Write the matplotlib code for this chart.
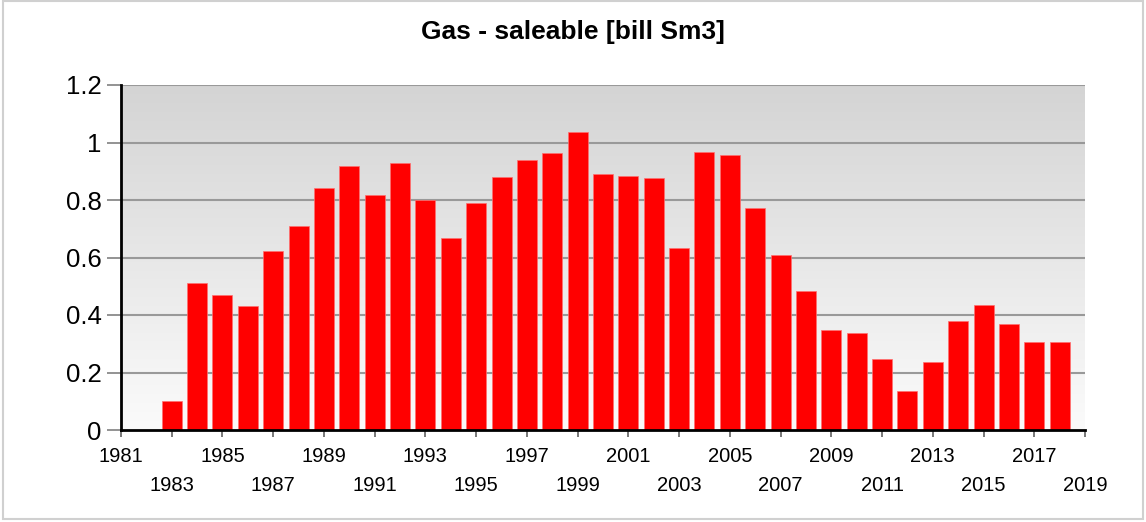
import numpy as np
import matplotlib
matplotlib.use("Agg")
import matplotlib.pyplot as plt
from matplotlib.patches import Rectangle

years = list(range(1983, 2019))
values = [0.10, 0.512, 0.468, 0.430, 0.621, 0.710, 0.841, 0.919, 0.818, 0.927,
          0.800, 0.667, 0.789, 0.880, 0.940, 0.965, 1.036, 0.890, 0.882, 0.876,
          0.633, 0.966, 0.957, 0.773, 0.607, 0.485, 0.349, 0.337, 0.248, 0.135,
          0.237, 0.380, 0.435, 0.369, 0.306, 0.307]
title = "Gas - saleable [bill Sm3]"
yticks = [0, 0.2, 0.4, 0.6, 0.8, 1.0, 1.2]
ytick_labels = ["0", "0.2", "0.4", "0.6", "0.8", "1", "1.2"]
xtick_upper = list(range(1981, 2020, 4))
xtick_lower = list(range(1983, 2020, 4))

plt.rcParams['font.family'] = ['Liberation Sans', 'DejaVu Sans']

W, H = 1146, 522
fig = plt.figure(figsize=(W / 100, H / 100), dpi=100)
ax = fig.add_axes([121 / W, 1 - 430 / H, (1085 - 121) / W, (430 - 85) / H])

ax.set_xlim(1981, 2019)
ax.set_ylim(0, 1.2)

# gradient background
grad = np.linspace(0, 1, 256).reshape(-1, 1)
cmap = matplotlib.colors.LinearSegmentedColormap.from_list("g", ["#fbfbfb", "#d4d4d4"])
ax.imshow(grad, extent=[1981, 2019, 0, 1.2], origin="lower", aspect="auto",
          cmap=cmap, zorder=0)

for y in yticks[1:]:
    ax.axhline(y, color="#999999", linewidth=1.5, zorder=1)

ax.bar(years, values, width=0.79, color="#ff0000", edgecolor="#ff7070",
       linewidth=0.5, zorder=2)

for s in ["top", "right"]:
    ax.spines[s].set_visible(False)
ax.spines["left"].set_linewidth(2)
ax.spines["bottom"].set_linewidth(2)
ax.spines["left"].set_zorder(3)
ax.spines["bottom"].set_zorder(3)

ax.set_yticks(yticks)
ax.set_yticklabels(ytick_labels)
ax.tick_params(axis="y", length=10, width=1.2, color="#808080", pad=4,
               labelsize=18.5)

ax.set_xticks(xtick_upper)
ax.set_xticklabels([str(v) for v in xtick_upper])
ax.set_xticks(xtick_lower, minor=True)
ax.set_xticklabels([str(v) for v in xtick_lower], minor=True)
ax.tick_params(axis="x", which="major", length=5, width=1.2, color="#606060",
               pad=7, labelsize=14.5)
ax.tick_params(axis="x", which="minor", length=5, width=1.2, color="#606060",
               pad=28, labelsize=14.5)

fig.text(0.5, 1 - 32 / H, title, ha="center", va="center", fontsize=19,
         fontweight="bold")

fig.patches.append(Rectangle((3 / W, 3 / H), (1143 - 3) / W, (H - 4) / H,
                             transform=fig.transFigure, fill=False,
                             edgecolor="#d0d0d0", linewidth=1.5))

fig.savefig("out.png", dpi=100)
